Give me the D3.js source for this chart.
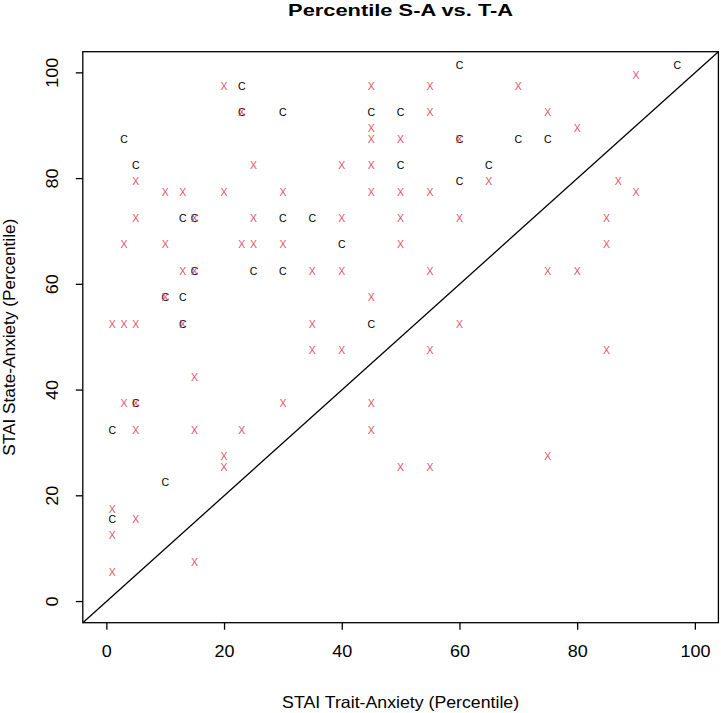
<!DOCTYPE html>
<html>
<head>
<meta charset="utf-8">
<script src="https://cdn.jsdelivr.net/npm/d3@7"></script>
<style>
html,body{margin:0;padding:0;background:#fff;}
svg{display:block;font-family:"Liberation Sans",Arial,Helvetica,sans-serif;}
</style>
</head>
<body>
<svg id="chart" width="721" height="713"></svg>
<script>
// Group "C" (black)
const cTrait = [23,23,30,3,5,13,15,30,15,25,30,10,13,13,5,1,10,1,60,45,50,60,50,65,60,35,40,45,97,70,75];
const cState = [97.5,92.5,92.5,87.5,82.5,72.5,72.5,72.5,62.5,62.5,62.5,57.5,57.5,52.5,37.5,32.5,22.5,15.5,101.5,92.5,92.5,87.5,82.5,82.5,79.5,72.5,67.5,52.5,101.5,87.5,87.5];
// Group "X" (red)
const xTrait = [20,23,25,5,10,13,20,30,5,15,25,3,10,23,25,30,13,15,10,1,3,5,13,15,3,5,30,5,15,23,20,20,1,5,1,15,1,
  45,55,55,45,45,50,60,40,45,65,45,50,55,40,50,60,50,35,40,55,45,35,60,35,40,55,45,45,50,55,
  70,90,75,80,87,90,85,85,75,80,85,75];
const xState = [97.5,92.5,82.5,79.5,77.5,77.5,77.5,77.5,72.5,72.5,72.5,67.5,67.5,67.5,67.5,67.5,62.5,62.5,57.5,52.5,52.5,52.5,52.5,42.5,37.5,37.5,37.5,32.5,32.5,32.5,27.5,25.5,17.5,15.5,12.5,7.5,5.5,
  97.5,97.5,92.5,89.5,87.5,87.5,87.5,82.5,82.5,79.5,77.5,77.5,77.5,72.5,72.5,72.5,67.5,62.5,62.5,62.5,57.5,52.5,52.5,47.5,47.5,47.5,37.5,32.5,25.5,25.5,
  97.5,99.5,92.5,89.5,79.5,77.5,72.5,67.5,62.5,62.5,47.5,27.5];
const xTicks = [0,20,40,60,80,100];
const yTicks = [0,20,40,60,80,100];
const titleText = "Percentile S-A vs. T-A";
const xLabel = "STAI Trait-Anxiety (Percentile)";
const yLabel = "STAI State-Anxiety (Percentile)";

const L = 82.8, R = 718.4, T = 51.7, B = 622.7;
const x = d3.scaleLinear().domain([-4,104]).range([L,R]);
const y = d3.scaleLinear().domain([-4,104]).range([B,T]);
const svg = d3.select("#chart");
const red = "#DF536B";
const FONT = "'Liberation Sans',Arial,sans-serif";

// diagonal y = x
svg.append("line")
  .attr("x1", x(-4)).attr("y1", y(-4))
  .attr("x2", x(104)).attr("y2", y(104))
  .attr("stroke","#000").attr("stroke-width",1.3);

// C points
svg.append("g").selectAll("text").data(cTrait.map((t,i)=>[t,cState[i]])).join("text")
  .attr("x", d=>x(d[0])).attr("y", d=>y(d[1]))
  .attr("dy","0.36em").attr("text-anchor","middle")
  .attr("font-size",10.5).attr("fill","#000").text("C");

// X points
svg.append("g").selectAll("text").data(xTrait.map((t,i)=>[t,xState[i]])).join("text")
  .attr("x", d=>x(d[0])).attr("y", d=>y(d[1]))
  .attr("dy","0.36em").attr("text-anchor","middle")
  .attr("font-size",10.5).attr("fill",red).text("X");

// box
svg.append("rect").attr("x",L).attr("y",T).attr("width",R-L).attr("height",B-T)
  .attr("fill","none").attr("stroke","#000").attr("stroke-width",1.3);

// x axis
const xa = svg.append("g").attr("transform",`translate(0,${B})`)
  .call(d3.axisBottom(x).tickValues(xTicks).tickSize(7).tickPadding(16).tickFormat(d3.format("d")));
xa.select(".domain").remove();
xa.selectAll("line").attr("stroke","#000").attr("stroke-width",1.3);
xa.selectAll("text").attr("font-size",16.5).attr("fill","#000").attr("font-family",FONT)
  .attr("textLength", d=>String(d).length*10).attr("lengthAdjust","spacingAndGlyphs");

// y axis
const ya = svg.append("g").attr("transform",`translate(${L},0)`)
  .call(d3.axisLeft(y).tickValues(yTicks).tickSize(7).tickFormat(d3.format("d")));
ya.select(".domain").remove();
ya.selectAll("line").attr("stroke","#000").attr("stroke-width",1.3);
ya.selectAll("text")
  .attr("x",null).attr("dy",null)
  .attr("text-anchor","middle")
  .attr("font-size",16.5).attr("fill","#000").attr("font-family",FONT)
  .attr("textLength", d=>String(d).length*10).attr("lengthAdjust","spacingAndGlyphs");
ya.selectAll(".tick").attr("transform",null);
ya.selectAll(".tick line").attr("transform", d=>`translate(0,${y(d)})`);
ya.selectAll(".tick text").attr("transform", d=>`translate(${58-L},${y(d)}) rotate(-90)`);

// title
svg.append("text").attr("x",(L+R)/2).attr("y",16).attr("text-anchor","middle")
  .attr("font-size",16.5).attr("font-weight","bold")
  .attr("textLength",225).attr("lengthAdjust","spacingAndGlyphs").text(titleText);
// axis titles
svg.append("text").attr("x",(L+R)/2).attr("y",708).attr("text-anchor","middle")
  .attr("font-size",16.5).attr("textLength",237).attr("lengthAdjust","spacingAndGlyphs").text(xLabel);
svg.append("text").attr("transform",`translate(15,${(T+B)/2}) rotate(-90)`).attr("text-anchor","middle")
  .attr("font-size",16.5).attr("textLength",237).attr("lengthAdjust","spacingAndGlyphs").text(yLabel);
</script>
</body>
</html>
